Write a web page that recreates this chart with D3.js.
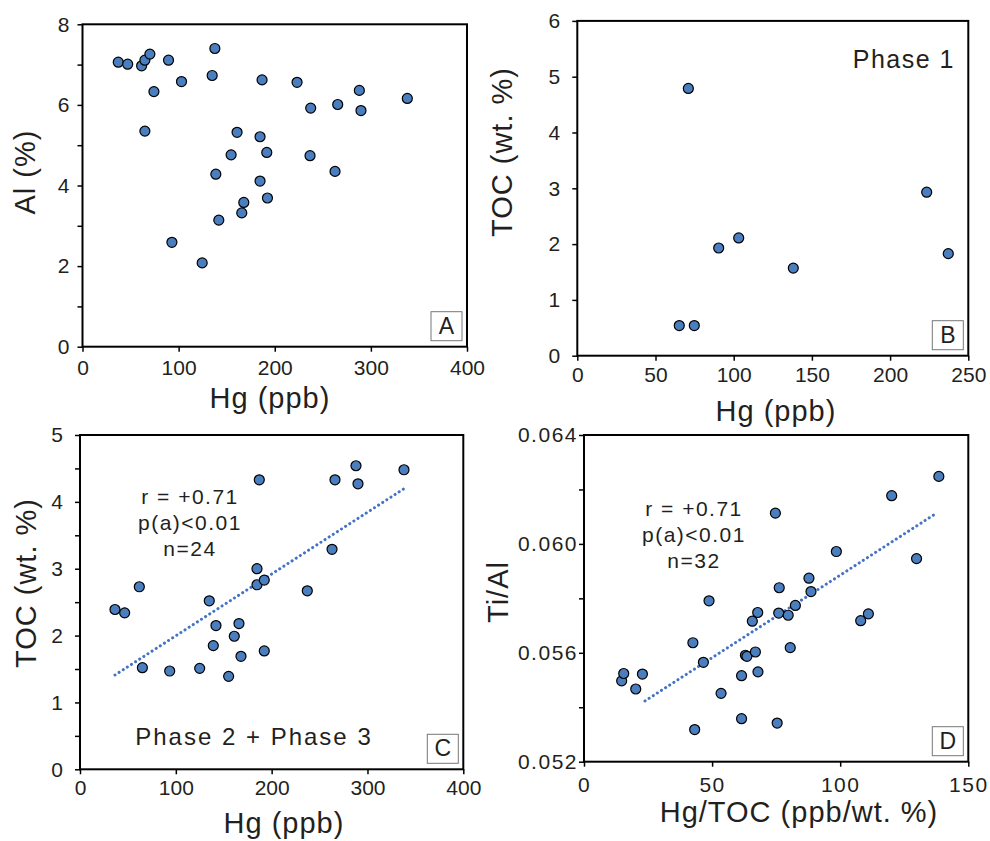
<!DOCTYPE html>
<html>
<head>
<meta charset="utf-8">
<script src="https://cdn.jsdelivr.net/npm/d3@7"></script>
<style>
  body { margin: 0; background: #fff; }
  text { font-family: "Liberation Sans", Arial, sans-serif; fill: #231f20; }
</style>
</head>
<body>
<svg id="chart" width="990" height="841"></svg>
<script>
// panel A: Hg vs Al, all samples
const alHg  = [37.2,47.0,61.5,64.9,70.1,89.5,137.7,134.9,103.0,74.3,186.8,223.2,288.0,237.4,265.5,289.7,337.9,64.9,160.8,184.7,154.6,191.7,236.7,262.7,138.7,184.7,167.8,192.4,165.7,141.8,93.0,124.5];
const alVal = [7.06,7.01,6.97,7.11,7.26,7.11,7.40,6.73,6.58,6.33,6.62,6.56,6.36,5.92,6.01,5.86,6.16,5.35,5.32,5.21,4.76,4.82,4.74,4.35,4.28,4.11,3.58,3.69,3.32,3.14,2.59,2.08];

// panel B: Phase 1
const phase1Hg  = [71.0,223.4,103.2,90.4,237.2,138.1,65.2,74.8];
const phase1Toc = [4.79,2.93,2.11,1.93,1.83,1.57,0.54,0.54];

// panel C: Phase 2 + Phase 3
const p23Hg  = [36.5,46.6,61.9,65.1,93.6,124.9,134.9,141.9,139.1,155.1,161.0,165.9,168.0,184.7,184.7,192.3,192.3,187.1,237.2,263.0,266.1,288.0,290.1,338.1];
const p23Toc = [2.39,2.34,2.73,1.52,1.47,1.51,2.52,2.15,1.85,1.39,1.99,2.18,1.69,3.00,2.76,2.83,1.77,4.33,2.67,3.29,4.33,4.54,4.27,4.48];
const trendCx = [36.5, 337.4];
const trendCy = [1.41, 4.19];

// panel D: Hg/TOC vs Ti/Al
const hgToc = [14.7,15.5,20.2,22.8,42.5,43.2,46.6,48.8,53.5,61.5,61.5,63.0,63.6,65.7,66.9,67.8,67.9,74.7,75.4,76.0,76.2,79.7,80.5,82.5,87.8,88.6,98.5,108.0,111.0,120.1,129.8,138.5];
const tiAl  = [0.05497,0.05524,0.05467,0.05522,0.05637,0.05318,0.05565,0.05791,0.05451,0.05516,0.05358,0.05591,0.05587,0.05716,0.05603,0.05748,0.05530,0.06113,0.05342,0.05746,0.05839,0.05738,0.05619,0.05774,0.05874,0.05825,0.05972,0.05718,0.05743,0.06177,0.05946,0.06248];
const trendDx = [23.8, 136.6];
const trendDy = [0.05423, 0.06107];

const svg = d3.select("#chart");
const dotFill = "#4a7ebf";
const lineCol = "#4472c4";

function panel(o) {
  const x = d3.scaleLinear().domain(o.xDomain).range([o.left, o.right]);
  const y = d3.scaleLinear().domain(o.yDomain).range([o.bottom, o.top]);
  const g = svg.append("g");

  // x axis
  const xa = g.append("g")
    .attr("transform", "translate(0," + o.bottom + ")")
    .call(d3.axisBottom(x).tickValues(o.xTicks).tickSize(5).tickSizeOuter(0)
      .tickPadding(o.xPad).tickFormat(d3.format("d")));
  // y axis, major + minor ticks
  const ya = g.append("g")
    .attr("transform", "translate(" + o.left + ",0)")
    .call(d3.axisLeft(y).tickValues(o.yTicks).tickSize(5).tickSizeOuter(0)
      .tickPadding(o.yPad)
      .tickFormat(d => o.yLabels.indexOf(d) >= 0 ? o.yFmt(d) : ""));
  [xa, ya].forEach(a => {
    a.select(".domain").remove();
    a.selectAll("line").attr("stroke", "#000").attr("stroke-width", 1.5);
    a.selectAll("text").style("font-size", "21px")
      .style("font-family", '"Liberation Sans", Arial, sans-serif')
      .attr("fill", "#231f20").style("letter-spacing", o.tickSpacing || "0px");
  });

  // frame
  g.append("rect")
    .attr("x", o.left).attr("y", o.top)
    .attr("width", o.right - o.left).attr("height", o.bottom - o.top)
    .attr("fill", "none").attr("stroke", "#000").attr("stroke-width", 2);

  // trend line
  if (o.tx) {
    g.append("path")
      .datum(d3.zip(o.tx, o.ty))
      .attr("d", d3.line().x(d => x(d[0])).y(d => y(d[1])))
      .attr("stroke", lineCol).attr("stroke-width", 3)
      .attr("stroke-dasharray", "0.1 4.8").attr("stroke-linecap", "round")
      .attr("fill", "none");
  }

  // points
  g.append("g").selectAll("circle")
    .data(d3.zip(o.xs, o.ys))
    .join("circle")
      .attr("cx", d => x(d[0]))
      .attr("cy", d => y(d[1]))
      .attr("r", 5)
      .attr("fill", dotFill)
      .attr("stroke", "#000")
      .attr("stroke-width", 1.2);

  // panel letter box
  g.append("rect")
    .attr("x", o.right - 36).attr("y", o.bottom - 35)
    .attr("width", 31).attr("height", 29)
    .attr("fill", "#fff").attr("stroke", "#777").attr("stroke-width", 1);
  g.append("text")
    .attr("x", o.right - 20.5).attr("y", o.bottom - 13)
    .attr("text-anchor", "middle")
    .style("font-size", "23px")
    .text(o.letter);

  // axis titles
  g.append("text")
    .attr("x", o.xt[0]).attr("y", o.xt[1])
    .attr("text-anchor", "middle")
    .style("font-size", "29px").style("letter-spacing", "1px")
    .text(o.xTitle);
  g.append("text")
    .attr("transform", "translate(" + o.yt[0] + "," + o.yt[1] + ") rotate(-90)")
    .attr("text-anchor", "middle").attr("dominant-baseline", "central")
    .style("font-size", "29px").style("letter-spacing", "1px")
    .text(o.yTitle);

  return { g: g, x: x, y: y };
}

function note(g, cx, y0, lines) {
  lines.forEach((t, i) => {
    g.append("text")
      .attr("x", cx).attr("y", y0 + i * 26)
      .attr("text-anchor", "middle")
      .style("font-size", "21px").style("letter-spacing", "1.5px")
      .text(t);
  });
}

// A
panel({
  left: 82.5, right: 467, top: 24.3, bottom: 346.7,
  xDomain: [0, 400], yDomain: [0, 8],
  xTicks: [0, 100, 200, 300, 400], xPad: 8,
  yTicks: d3.range(0, 9, 1), yLabels: [0, 2, 4, 6, 8], yPad: 8, yFmt: d3.format("d"),
  xs: alHg, ys: alVal, letter: "A",
  xTitle: "Hg (ppb)", xt: [270, 408],
  yTitle: "Al (%)", yt: [25, 172]
});

// B
const pB = panel({
  left: 577.3, right: 968.3, top: 20.9, bottom: 355.7,
  xDomain: [0, 250], yDomain: [0, 6],
  xTicks: [0, 50, 100, 150, 200, 250], xPad: 6,
  yTicks: d3.range(0, 7, 1), yLabels: d3.range(0, 7, 1), yPad: 12, yFmt: d3.format("d"),
  xs: phase1Hg, ys: phase1Toc, letter: "B",
  xTitle: "Hg (ppb)", xt: [776, 421],
  yTitle: "TOC (wt. %)", yt: [502, 152]
});
pB.g.append("text")
  .attr("x", 955).attr("y", 68)
  .attr("text-anchor", "end")
  .style("font-size", "25px").style("letter-spacing", "1.5px")
  .text("Phase 1");

// C
const pC = panel({
  left: 80, right: 463.3, top: 435, bottom: 769.3,
  xDomain: [0, 400], yDomain: [0, 5],
  xTicks: [0, 100, 200, 300, 400], xPad: 6,
  yTicks: d3.range(0, 5.01, 0.5), yLabels: [0, 1, 2, 3, 4, 5], yPad: 12, yFmt: d3.format("d"),
  xs: p23Hg, ys: p23Toc, tx: trendCx, ty: trendCy, letter: "C",
  xTitle: "Hg (ppb)", xt: [284, 833],
  yTitle: "TOC (wt. %)", yt: [26, 583]
});
note(pC.g, 190, 504, ["r = +0.71", "p(a)<0.01", "n=24"]);
pC.g.append("text")
  .attr("x", 254).attr("y", 745)
  .attr("text-anchor", "middle")
  .style("font-size", "24px").style("letter-spacing", "2px")
  .text("Phase 2 + Phase 3");

// D
const pD = panel({
  left: 584, right: 968.3, top: 435, bottom: 761.7,
  xDomain: [0, 150], yDomain: [0.052, 0.064],
  xTicks: [0, 50, 100, 150], xPad: 10,
  yTicks: [0.052, 0.054, 0.056, 0.058, 0.060, 0.062, 0.064],
  yLabels: [0.052, 0.056, 0.060, 0.064], yPad: 1, yFmt: d3.format(".3f"),
  tickSpacing: "1.5px",
  xs: hgToc, ys: tiAl, tx: trendDx, ty: trendDy, letter: "D",
  xTitle: "Hg/TOC (ppb/wt. %)", xt: [799, 822],
  yTitle: "Ti/Al", yt: [497.5, 592]
});
note(pD.g, 694, 515.7, ["r = +0.71", "p(a)<0.01", "n=32"]);
</script>
</body>
</html>
